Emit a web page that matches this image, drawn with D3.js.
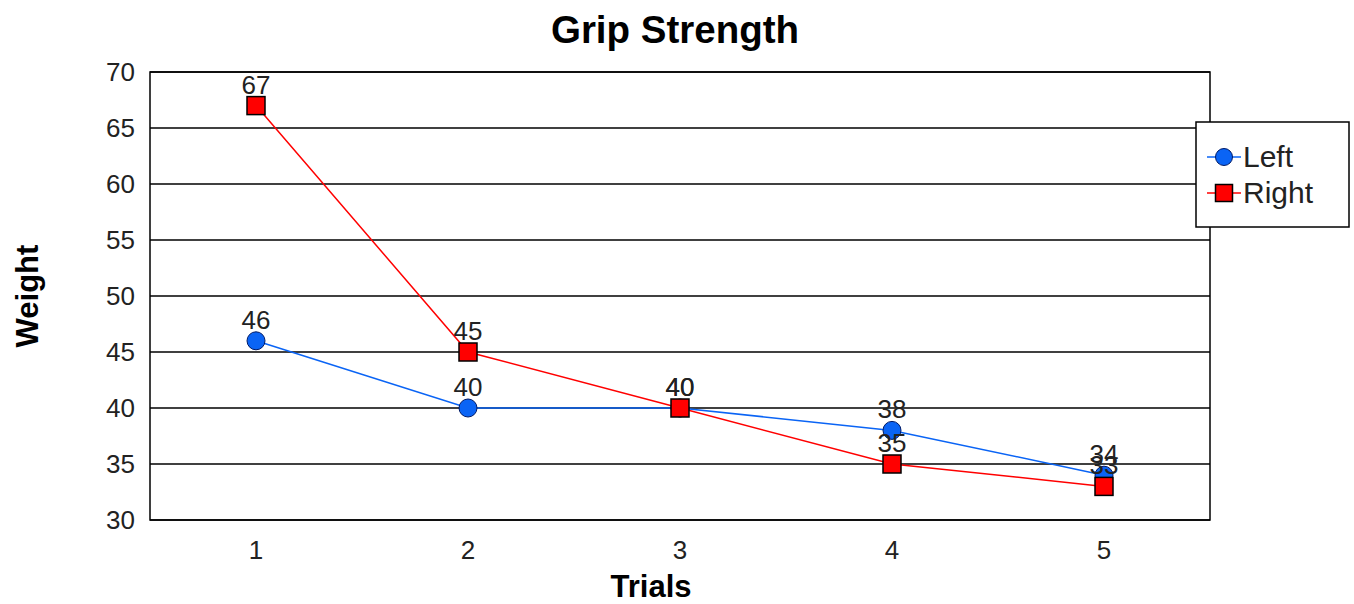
<!DOCTYPE html>
<html>
<head>
<meta charset="utf-8">
<script src="https://cdn.jsdelivr.net/npm/d3@7"></script>
<style>
  html, body { margin: 0; padding: 0; background: #fff; }
  svg { display: block; font-family: "Liberation Sans", Arial, sans-serif; }
</style>
</head>
<body>
<svg id="chart" width="1354" height="604"></svg>
<script>
// Grip strength trials, left vs right hand
const trials = ["1", "2", "3", "4", "5"];
const leftValues = [46, 40, 40, 38, 34];
const rightValues = [67, 45, 40, 35, 33];
const yTicks = [30, 35, 40, 45, 50, 55, 60, 65, 70];

const series = [
  { name: "Left", values: leftValues, color: "#0a64f5", marker: "circle" },
  { name: "Right", values: rightValues, color: "#ff0000", marker: "square" }
];

const svg = d3.select("#chart");
const plot = { left: 150, right: 1210, top: 72, bottom: 520 };

const x = d3.scaleBand().domain(trials).range([plot.left, plot.right]);
const y = d3.scaleLinear().domain([30, 70]).range([plot.bottom, plot.top]);

// Horizontal gridlines
svg.append("g")
  .selectAll("line")
  .data(yTicks)
  .join("line")
  .attr("x1", plot.left).attr("x2", plot.right)
  .attr("y1", d => y(d)).attr("y2", d => y(d))
  .attr("stroke", "#000").attr("stroke-width", 1.5);

// Plot frame
svg.append("rect")
  .attr("x", plot.left).attr("y", plot.top)
  .attr("width", plot.right - plot.left).attr("height", plot.bottom - plot.top)
  .attr("fill", "none").attr("stroke", "#000").attr("stroke-width", 1.5);

// Y axis labels
const yAxis = svg.append("g")
  .attr("transform", `translate(${plot.left},0)`)
  .call(d3.axisLeft(y).tickValues(yTicks).tickSize(0).tickPadding(15));
yAxis.select(".domain").remove();
yAxis.selectAll("text")
  .attr("font-size", 26).attr("fill", "#222")
  .attr("font-family", "Liberation Sans, Arial, sans-serif");

// X axis labels
const xAxis = svg.append("g")
  .attr("transform", `translate(0,${plot.bottom})`)
  .call(d3.axisBottom(x).tickSize(0).tickPadding(21));
xAxis.select(".domain").remove();
xAxis.selectAll("text")
  .attr("font-size", 26).attr("fill", "#222")
  .attr("font-family", "Liberation Sans, Arial, sans-serif");

// Title and axis titles
svg.append("text")
  .attr("x", 675).attr("y", 43)
  .attr("text-anchor", "middle")
  .attr("font-size", 38.5).attr("font-weight", "bold")
  .text("Grip Strength");

svg.append("text")
  .attr("x", 651).attr("y", 597)
  .attr("text-anchor", "middle")
  .attr("font-size", 31).attr("font-weight", "bold")
  .text("Trials");

svg.append("text")
  .attr("transform", "translate(38,296) rotate(-90)")
  .attr("text-anchor", "middle")
  .attr("font-size", 31).attr("font-weight", "bold")
  .text("Weight");

const cx = (d, i) => x(trials[i]) + x.bandwidth() / 2;
const line = d3.line().x((d, i) => cx(d, i)).y(d => y(d));

function drawMarker(g, s, px, py, size) {
  if (s.marker === "circle") {
    g.append("circle")
      .attr("cx", px).attr("cy", py).attr("r", size / 2)
      .attr("fill", s.color).attr("stroke", "#001a66").attr("stroke-width", 1);
  } else {
    g.append("rect")
      .attr("x", px - size / 2).attr("y", py - size / 2)
      .attr("width", size).attr("height", size)
      .attr("fill", s.color).attr("stroke", "#000").attr("stroke-width", 1.5);
  }
}

// Lines and markers
series.forEach(s => {
  const g = svg.append("g");
  g.append("path")
    .datum(s.values)
    .attr("d", line)
    .attr("fill", "none")
    .attr("stroke", s.color)
    .attr("stroke-width", 1.5);
  s.values.forEach((v, i) => drawMarker(g, s, cx(v, i), y(v), 18));
});

// Value labels
series.forEach(s => {
  svg.append("g")
    .selectAll("text")
    .data(s.values)
    .join("text")
    .attr("x", (d, i) => cx(d, i))
    .attr("y", d => y(d) - 12)
    .attr("text-anchor", "middle")
    .attr("font-size", 26).attr("fill", "#222")
    .text(d => d);
});

// Legend
const legend = svg.append("g");
legend.append("rect")
  .attr("x", 1196).attr("y", 122).attr("width", 153).attr("height", 105)
  .attr("fill", "#fff").attr("stroke", "#000").attr("stroke-width", 1.5);
series.forEach((s, i) => {
  const ly = 157 + i * 36;
  legend.append("line")
    .attr("x1", 1207).attr("x2", 1241).attr("y1", ly).attr("y2", ly)
    .attr("stroke", s.color).attr("stroke-width", 1.5);
  drawMarker(legend, s, 1224, ly, 17);
  legend.append("text")
    .attr("x", 1243).attr("y", ly + 10)
    .attr("font-size", 30).attr("fill", "#222")
    .text(s.name);
});
</script>
</body>
</html>
